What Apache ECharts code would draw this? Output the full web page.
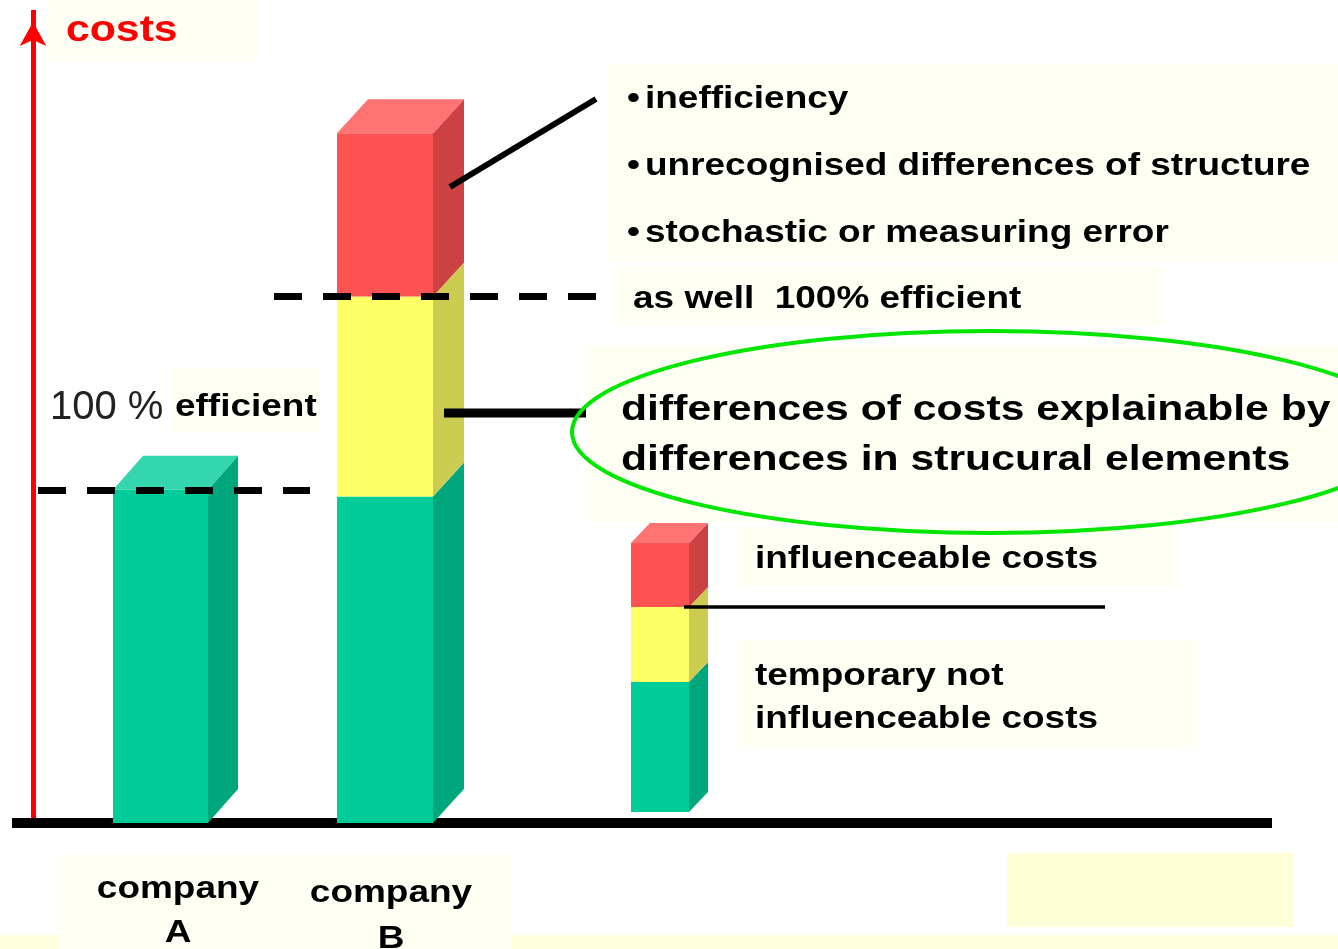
<!DOCTYPE html>
<html>
<head>
<meta charset="utf-8">
<title>costs</title>
<script src="https://cdn.jsdelivr.net/npm/echarts@6/dist/echarts.min.js"></script>
<style>
  html, body { margin: 0; padding: 0; background: #fff; }
  #chart { width: 1338px; height: 949px; }
</style>
</head>
<body>
<div id="chart"></div>
<script>
// values in cost units, company A = 100 (= "100 % efficient")
var categories = ['company A', 'company B', 'legend'];
var baseCosts = [0, 0, 3.3];
var notInfluenceable = [100, 98, 39];   // green
var structural = [0, 60, 22.5];         // yellow
var influenceable = [0, 49, 19.2];      // red
var yMax = 244;

var bulletLabels = ['inefficiency', 'unrecognised differences of structure', 'stochastic or measuring error'];
var ellipseLabels = ['differences of costs explainable by', 'differences in strucural elements'];
var legendLabels = ['influenceable costs', 'temporary not', 'influenceable costs'];

// layout of the bars (pixels on the x axis)
var barCenter = [160.5, 385, 660];
var barWidth = [95, 96, 58];
var barDepth = [[30, 34], [31, 34], [19, 20]];

var FONT = '"Liberation Sans", Arial, sans-serif';

var colors = {
  green: { front: '#00CC99', side: '#00A67C', top: '#33D6AD' },
  yellow: { front: '#FFFF66', side: '#CCCC52', top: '#FFFF99' },
  red: { front: '#FF5252', side: '#CC4242', top: '#FF7373' }
};

// stack the segments
var layers = [notInfluenceable, structural, influenceable];
var layerColors = [colors.green, colors.yellow, colors.red];
var topLayer = categories.map(function (c, i) {
  var t = 0;
  layers.forEach(function (l, k) { if (l[i] > 0) t = k; });
  return t;
});

function segmentData(k) {
  return categories.map(function (c, i) {
    var lo = baseCosts[i];
    for (var j = 0; j < k; j++) lo += layers[j][i];
    return [i, lo, lo + layers[k][i]];
  });
}

function segmentSeries(k) {
  var col = layerColors[k];
  return {
    type: 'custom',
    name: ['not influenceable', 'structural', 'influenceable'][k],
    silent: true,
    z: 2,
    renderItem: function (params, api) {
      var i = api.value(0);
      var lo = api.value(1), hi = api.value(2);
      if (hi <= lo) return;
      var c = barCenter[i], w = barWidth[i];
      var dx = barDepth[i][0], dy = barDepth[i][1];
      var pLo = api.coord([c - w / 2, lo]);
      var pHi = api.coord([c + w / 2, hi]);
      var x0 = pLo[0], x1 = pHi[0], yb = pLo[1], yt = pHi[1];
      var children = [
        { type: 'rect', shape: { x: x0, y: yt, width: x1 - x0, height: yb - yt }, style: { fill: col.front } },
        { type: 'polygon', shape: { points: [[x1, yt], [x1 + dx, yt - dy], [x1 + dx, yb - dy], [x1, yb]] }, style: { fill: col.side } }
      ];
      if (topLayer[i] === k) {
        children.push({ type: 'polygon', shape: { points: [[x0, yt], [x0 + dx, yt - dy], [x1 + dx, yt - dy], [x1, yt]] }, style: { fill: col.top } });
      }
      return { type: 'group', children: children };
    },
    data: segmentData(k)
  };
}

var levelA = baseCosts[0] + notInfluenceable[0];
var levelB = baseCosts[1] + notInfluenceable[1] + structural[1];

var series = [segmentSeries(0), segmentSeries(1), segmentSeries(2)];
series[0].markLine = {
  silent: true,
  symbol: 'none',
  z: 10,
  label: { show: false },
  lineStyle: { color: '#000', width: 7, type: [28, 21], cap: 'butt' },
  data: [
    [{ coord: [38, levelA] }, { coord: [310, levelA] }],
    [{ coord: [274, levelB] }, { coord: [596, levelB] }]
  ]
};

function box(x, y, w, h, fill) {
  return { type: 'rect', z: 1, shape: { x: x, y: y, width: w, height: h }, style: { fill: fill || '#FFFFF3' } };
}
function label(x, y, text, size, opts) {
  opts = opts || {};
  return {
    type: 'text', x: x, y: y + 2, z: 50, scaleX: opts.scaleX || 1.155,
    style: {
      text: text,
      font: (opts.weight || 'bold') + ' ' + size + 'px ' + FONT,
      fill: opts.color || '#000',
      align: opts.align || 'left',
      verticalAlign: 'middle'
    }
  };
}
function line(x1, y1, x2, y2, w) {
  return { type: 'line', z: 40, shape: { x1: x1, y1: y1, x2: x2, y2: y2 }, style: { stroke: '#000', lineWidth: w } };
}

var graphics = [
  box(0, 935, 1338, 14, '#FFFFDD'),
  box(1007, 853, 286, 74, '#FFFFD7'),
  box(57, 855, 455, 94),
  box(48, 0, 210, 62),
  box(607, 64, 731, 198),
  box(615, 266, 547, 60),
  box(172, 368, 148, 64),
  box(585, 345, 753, 177),
  box(737, 528, 441, 58),
  box(737, 640, 461, 108),

  label(66, 29, 'costs', 37, { color: '#FF0000' }),
  label(627, 97, '•', 32), label(645, 97, bulletLabels[0], 32),
  label(627, 164, '•', 32), label(645, 164, bulletLabels[1], 32),
  label(627, 231, '•', 32), label(645, 231, bulletLabels[2], 32),
  label(633, 297, 'as well  100% efficient', 32),
  label(50, 406, '100 %', 40, { weight: 'normal', color: '#222', scaleX: 1 }),
  label(175, 405, 'efficient', 32),
  label(621, 408, ellipseLabels[0], 35, { scaleX: 1.22 }),
  label(621, 458, ellipseLabels[1], 35, { scaleX: 1.22 }),
  label(755, 557, legendLabels[0], 32),
  label(755, 674, legendLabels[1], 32),
  label(755, 717, legendLabels[2], 32),
  label(178, 887, 'company', 32, { align: 'center' }),
  label(178, 931, 'A', 32, { align: 'center' }),
  label(391, 891, 'company', 32, { align: 'center' }),
  label(391, 937, 'B', 32, { align: 'center' }),

  { type: 'ellipse', z: 45, shape: { cx: 990, cy: 432, rx: 418, ry: 101 }, style: { fill: 'none', stroke: '#00E600', lineWidth: 4 } },
  line(450, 187, 596, 99, 6),
  line(444, 413, 586, 413, 9),
  line(684, 607, 1105, 607, 3.5)
];

var chart = echarts.init(document.getElementById('chart'));
chart.setOption({
  animation: false,
  grid: { left: 12, right: 66, top: 10, bottom: 126 },
  xAxis: {
    type: 'value', min: 12, max: 1272,
    axisLine: { show: true, lineStyle: { color: '#000', width: 10, cap: 'butt' } },
    axisTick: { show: false }, axisLabel: { show: false }, splitLine: { show: false }
  },
  yAxis: {
    type: 'value', min: 0, max: yMax, offset: -21,
    axisLine: {
      show: true,
      symbol: ['none', 'arrow'], symbolSize: [20, 24], symbolOffset: [0, -12],
      lineStyle: { color: '#FF0000', width: 5, cap: 'butt' }
    },
    axisTick: { show: false }, axisLabel: { show: false }, splitLine: { show: false }
  },
  graphic: graphics,
  series: series
});
</script>
</body>
</html>
